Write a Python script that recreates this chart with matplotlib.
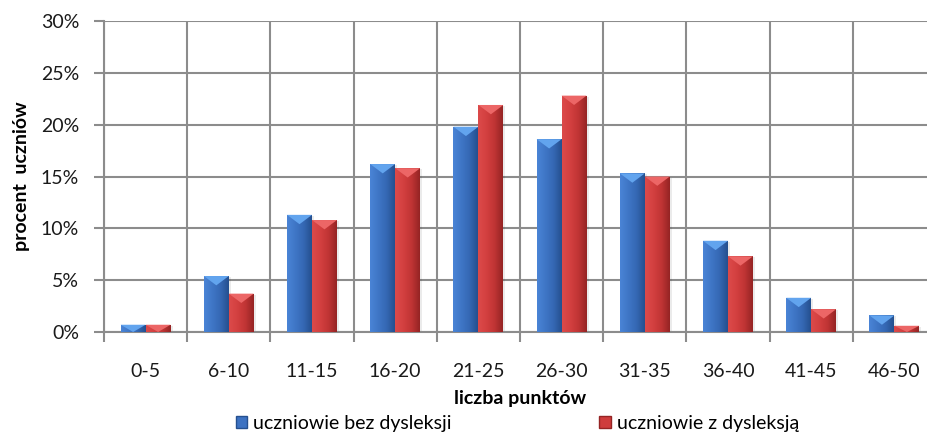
import numpy as np
import matplotlib
matplotlib.use("Agg")
import matplotlib.pyplot as plt
from matplotlib.colors import LinearSegmentedColormap
from matplotlib.patches import Polygon, Patch
from matplotlib.ticker import PercentFormatter

# --- Daten ---
CATEGORIES = ["0-5", "6-10", "11-15", "16-20", "21-25", "26-30",
              "31-35", "36-40", "41-45", "46-50"]
BEZ_DYSLEKSJI = [0.7, 5.4, 11.3, 16.2, 19.8, 18.6, 15.3, 8.8, 3.3, 1.6]
Z_DYSLEKSJA = [0.7, 3.7, 10.8, 15.8, 21.9, 22.8, 15.0, 7.3, 2.2, 0.6]
SERIES_NAMES = ["uczniowie bez dysleksji", "uczniowie z dysleksją"]

# --- Stil ---
plt.rcParams["font.family"] = ["Lato", "DejaVu Sans"]
FS = 14
GRID = "#8c8c8c"
STYLES = [
    {"face": "#3d72c2", "cmap": ["#4a84d6", "#3f76c6", "#3568b4", "#25508f"], "top": "#62a4ee"},
    {"face": "#cf3c3c", "cmap": ["#dc4a4a", "#d34040", "#c03434", "#952424"], "top": "#ec6666"},
]

fig = plt.figure(figsize=(9.27, 4.34), dpi=100)
ax = fig.add_axes([104 / 927, 1 - 332 / 434, 832 / 927, 311 / 434])

x = np.arange(len(CATEGORIES))
w = 0.3


def fancy_bars(ax, xs, vals, st):
    bars = ax.bar(xs, vals, w, color=st["face"], edgecolor="none", zorder=3)
    cmap = LinearSegmentedColormap.from_list("g", st["cmap"])
    grad = np.linspace(0, 1, 64).reshape(1, -1)
    for b, v in zip(bars, vals):
        x0 = b.get_x()
        # leichter Schatten
        ax.bar(x0 + w / 2 + 0.025, v, w, bottom=-0.1, color="#000000",
               alpha=0.08, edgecolor="none", zorder=2)
        im = ax.imshow(grad, cmap=cmap, aspect="auto", extent=(x0, x0 + w, 0, v),
                       zorder=3.5, interpolation="bicubic")
        im.set_clip_path(b)
        d = min(0.9, v)
        tri = Polygon([(x0, v), (x0 + w, v), (x0 + w / 2, v - d)],
                      closed=True, facecolor=st["top"], edgecolor="none", zorder=4)
        ax.add_patch(tri)
    return bars


fancy_bars(ax, x - w / 2, BEZ_DYSLEKSJI, STYLES[0])
fancy_bars(ax, x + w / 2, Z_DYSLEKSJA, STYLES[1])

ax.set_xlim(-0.5, len(CATEGORIES) - 0.5)
ax.set_ylim(0, 30)
ax.set_yticks(np.arange(0, 31, 5))
ax.yaxis.set_major_formatter(PercentFormatter(decimals=0))
ax.set_xticks(x)
ax.set_xticklabels(CATEGORIES)
ax.set_xticks(np.arange(-0.5, len(CATEGORIES), 1), minor=True)

ax.tick_params(axis="x", which="major", length=0, pad=22, labelsize=FS, colors="#1a1a1a")
ax.tick_params(axis="x", which="minor", length=7, width=1.5, color=GRID)
ax.tick_params(axis="y", which="major", length=7, width=1.5, color=GRID,
               labelsize=FS, labelcolor="#1a1a1a", pad=11)

ax.grid(True, axis="y", which="major", color=GRID, linewidth=1.5, zorder=0)
ax.grid(True, axis="x", which="minor", color=GRID, linewidth=1.5, zorder=0)
ax.set_axisbelow(True)
for s in ["top", "right"]:
    ax.spines[s].set_visible(False)
for s in ["left", "bottom"]:
    ax.spines[s].set_color(GRID)
    ax.spines[s].set_linewidth(1.5)

ax.set_xlabel("liczba punktów", fontsize=FS, fontweight="bold", labelpad=7.5)
ax.set_ylabel("procent  uczniów", fontsize=FS, fontweight="bold", labelpad=8)

handles = [Patch(facecolor=STYLES[0]["face"], edgecolor="#25508f"),
           Patch(facecolor=STYLES[1]["face"], edgecolor="#952424")]
fig.legend(handles, SERIES_NAMES, loc="center", bbox_to_anchor=(0.558, 0.024),
           ncol=2, frameon=False, fontsize=FS, handlelength=0.6,
           handleheight=0.6, handletextpad=0.3, columnspacing=7.6,
           borderpad=0.1)

fig.savefig("out.png", dpi=100)
